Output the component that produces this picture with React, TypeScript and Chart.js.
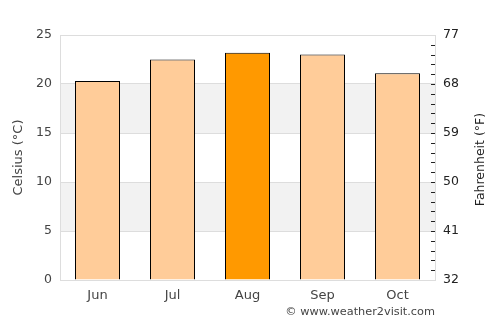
import React, { useEffect, useRef } from "react";
import { Chart, registerables } from "chart.js";

Chart.register(...registerables);

const months = ["Jun", "Jul", "Aug", "Sep", "Oct"];
const celsius = [20.3, 22.5, 23.2, 23.0, 21.1];
const highlightIndex = 2;
const shadedBands = [
  [5, 10],
  [15, 20],
];
const celsiusTicks = [0, 5, 10, 15, 20, 25];
const fahrenheitLabels = ["32", "41", "50", "59", "68", "77"];
const copyright = "© www.weather2visit.com";

const FONT = "'DejaVu Sans', sans-serif";

export default function App() {
  const ref = useRef<HTMLCanvasElement | null>(null);

  useEffect(() => {
    const canvas = ref.current;
    if (!canvas) return;

    const bandsPlugin = {
      id: "bands",
      beforeDraw(chart: any) {
        const { ctx, chartArea } = chart;
        const y = chart.scales.y;
        ctx.save();
        ctx.fillStyle = "#f2f2f2";
        for (const [a, b] of shadedBands) {
          const y1 = y.getPixelForValue(b);
          const y2 = y.getPixelForValue(a);
          ctx.fillRect(chartArea.left, y1, chartArea.right - chartArea.left, y2 - y1);
        }
        ctx.restore();
      },
    };

    const extrasPlugin = {
      id: "extras",
      afterDraw(chart: any) {
        const { ctx, chartArea } = chart;
        const y = chart.scales.y;
        ctx.save();
        // minor ticks on the right (every 1°C)
        ctx.strokeStyle = "#222";
        ctx.lineWidth = 1;
        for (let v = 1; v < 25; v++) {
          const py = Math.round(y.getPixelForValue(v)) + 0.5;
          ctx.beginPath();
          ctx.moveTo(chartArea.right - 4, py);
          ctx.lineTo(chartArea.right, py);
          ctx.stroke();
        }
        // right axis title
        ctx.fillStyle = "#222";
        ctx.font = "12.5px " + FONT;
        ctx.textAlign = "center";
        ctx.textBaseline = "middle";
        ctx.translate(481, (chartArea.top + chartArea.bottom) / 2 + 2);
        ctx.rotate(-Math.PI / 2);
        ctx.fillText("Fahrenheit (°F)", 0, 0);
        ctx.restore();
        // copyright
        ctx.save();
        ctx.fillStyle = "#444";
        ctx.font = "11.3px " + FONT;
        ctx.textAlign = "right";
        ctx.textBaseline = "middle";
        ctx.fillText(copyright, chartArea.right, 312.5);
        ctx.restore();
      },
    };

    const chart = new Chart(canvas, {
      type: "bar",
      data: {
        labels: months,
        datasets: [
          {
            data: celsius,
            backgroundColor: celsius.map((_, i) => (i === highlightIndex ? "#ff9900" : "#ffcc99")),
            borderColor: "#000",
            borderWidth: 1,
            barPercentage: 0.6,
            categoryPercentage: 1,
          },
        ],
      },
      options: {
        animation: false,
        responsive: false,
        maintainAspectRatio: false,
        layout: { padding: { top: 35, left: 0, right: 0, bottom: 0 } },
        plugins: { legend: { display: false }, tooltip: { enabled: false } },
        scales: {
          x: {
            grid: { display: false, drawTicks: false },
            border: { display: true, color: "#dddddd" },
            ticks: { color: "#444", font: { family: FONT, size: 13 }, padding: 8 },
            afterFit(scale: any) {
              scale.height = 45;
            },
          },
          y: {
            position: "left",
            min: 0,
            max: 25,
            afterBuildTicks(scale: any) {
              scale.ticks = celsiusTicks.map((v) => ({ value: v }));
            },
            grid: { color: "#dddddd", drawTicks: false },
            border: { display: true, color: "#dddddd" },
            ticks: { color: "#444", font: { family: FONT, size: 12.5 }, padding: 8 },
            title: {
              display: true,
              text: "Celsius (°C)",
              color: "#444",
              font: { family: FONT, size: 13 },
              padding: { top: 11, bottom: 0 },
            },
            afterFit(scale: any) {
              scale.width = 60;
            },
          },
          y1: {
            position: "right",
            min: 0,
            max: 25,
            afterBuildTicks(scale: any) {
              scale.ticks = celsiusTicks.map((v) => ({ value: v }));
            },
            grid: { display: false, drawOnChartArea: false, drawTicks: false },
            border: { display: true, color: "#dddddd" },
            ticks: {
              color: "#222",
              font: { family: FONT, size: 12.5 },
              padding: 8,
              callback: (_v: any, i: number) => fahrenheitLabels[i],
            },
            afterFit(scale: any) {
              scale.width = 65;
            },
          },
        },
      },
      plugins: [bandsPlugin, extrasPlugin],
    });

    return () => chart.destroy();
  }, []);

  return (
    <div style={{ position: "absolute", left: 0, top: 0, width: 500, height: 325, background: "#fff" }}>
      <canvas ref={ref} width={500} height={325} style={{ width: 500, height: 325 }} />
    </div>
  );
}
